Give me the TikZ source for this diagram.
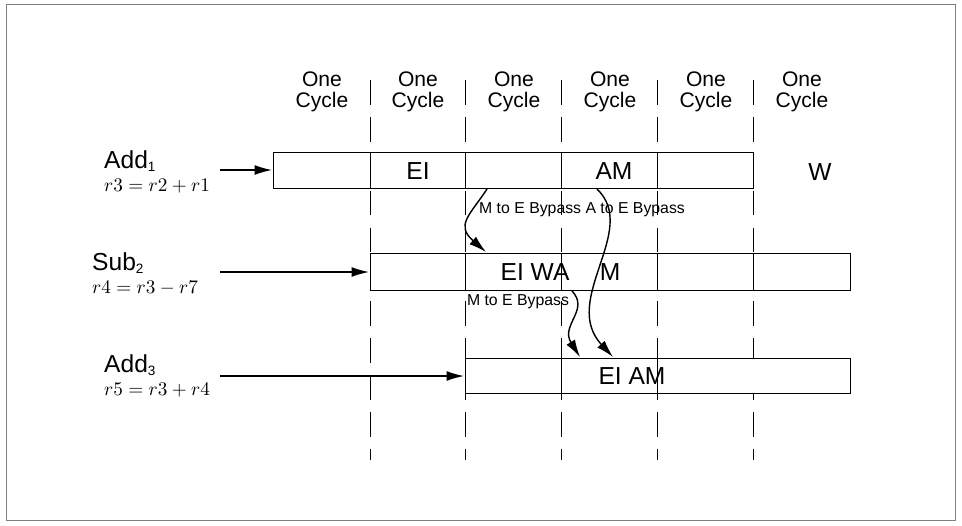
\documentclass[tikz,border=0pt]{standalone}
\usepackage{fontspec}
\setmainfont{Liberation Sans}
\usetikzlibrary{positioning,arrows.meta}
\tikzset{
  stage/.style={draw,minimum height=0.72cm,inner sep=0pt},
  cyc/.style={align=center,font=\fontsize{12}{12}\selectfont},
  lbl/.style={font=\fontsize{14}{14}\selectfont},
  small/.style={font=\fontsize{9}{9}\selectfont,inner sep=1pt},
  feed/.style={-{Latex[length=3.5mm,width=2mm]},thick},
  instr/.style={align=left,anchor=west,font=\fontsize{14}{16}\selectfont}
}
\newcommand{\eqn}[1]{{\fontsize{10.5}{12}\selectfont$#1$}}
\newcommand{\opname}[2]{#1{\fontsize{11}{11}\selectfont$_{\mathrm{#2}}$}}
\begin{document}
\begin{tikzpicture}[x=0.02cm,y=-0.02cm]
\useasboundingbox (0,0) rectangle (962,525);
\draw[gray] (6,4) rectangle (955,520);
% cycle headers and dashed lines
\foreach \x [count=\i] in {322,418,514,610,706,802}
  \node[cyc] (c\i) at (\x,92) {One\\Cycle};
\foreach \x in {370,465,561,657,753}
  \draw[dashed,dash pattern=on 14pt off 7pt] (\x,80)--(\x,460);
% row 1
\fill[white] (273,152) rectangle (753,188);
\draw (273,152) rectangle (753,188);
\foreach \x in {370,465,561,657} \draw (\x,152)--(\x,188);
\node[lbl] (ei1) at (418,171) {EI};
\node[lbl] (am1) at (614,171) {AM};
\node[lbl] (w1) at (820,172) {W};
% row 2
\fill[white] (370,253) rectangle (850,290);
\draw (370,253) rectangle (850,290);
\foreach \x in {465,561,657,753} \draw (\x,253)--(\x,290);
\node[lbl] (eiwa) at (535,272) {EI WA};
\node[lbl] (m2) at (610,272) {M};
% row 3
\fill[white] (465,358) rectangle (850,393);
\draw (465,358) rectangle (850,393);
\foreach \x in {561,657} \draw (\x,358)--(\x,393);
\node[lbl] (eiam) at (632,376) {EI AM};
% instructions
\node[instr] (add1) at (98,172) {\opname{Add}{1}\\[-3pt]\eqn{r3 = r2 + r1}};
\node[instr] (sub2) at (86,274) {\opname{Sub}{2}\\[-3pt]\eqn{r4 = r3 - r7}};
\node[instr] (add3) at (98,376) {\opname{Add}{3}\\[-3pt]\eqn{r5 = r3 + r4}};
\coordinate (s1) at (220,170); \coordinate (e1) at (272,170);
\coordinate (s2) at (220,272); \coordinate (e2) at (369,272);
\coordinate (s3) at (220,376); \coordinate (e3) at (464,376);
\draw[feed] (s1)--(e1);
\draw[feed] (s2)--(e2);
\draw[feed] (s3)--(e3);
% bypass labels
\node[small] (byp1) at (582,210) {M to E Bypass A to E Bypass};
\node[small] (byp2) at (518,302) {M to E Bypass};
% bypass arrows
\coordinate (b1s) at (487,189); \coordinate (b1e) at (486,252);
\coordinate (b2s) at (597,189); \coordinate (b2e) at (613,357);
\coordinate (b3s) at (572,291); \coordinate (b3e) at (580,357);
\draw[feed] (b1s) .. controls (470,215) and (455,225) .. (b1e);
\draw[feed] (b2s) .. controls (640,230) and (560,300) .. (b2e);
\draw[feed] (b3s) .. controls (590,310) and (560,325) .. (b3e);
\end{tikzpicture}
\end{document}
